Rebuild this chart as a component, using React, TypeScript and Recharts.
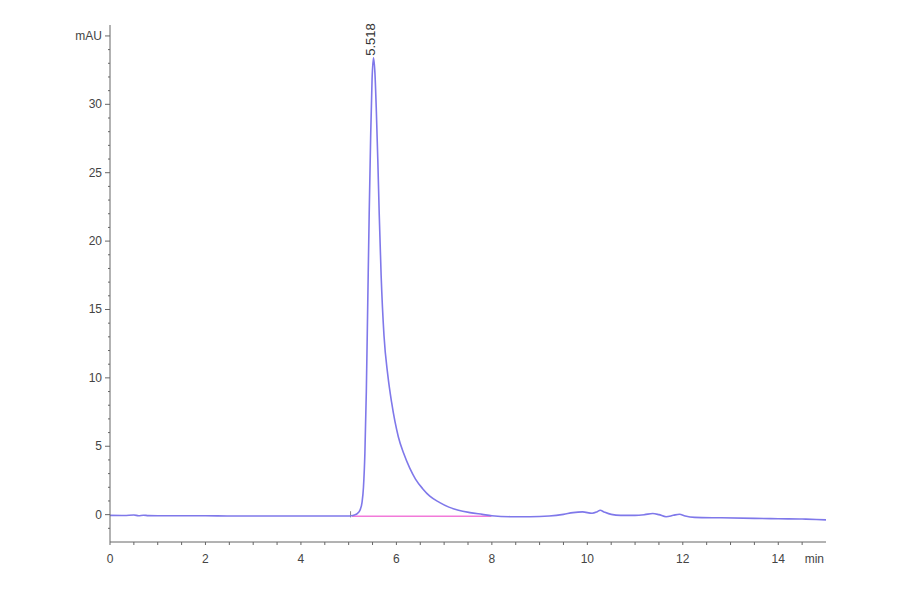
import React from "react";
import { Line, LineChart, ReferenceDot, ReferenceLine, XAxis, YAxis } from "recharts";

// retention time (min) and detector signal (mAU)
const times = [
  0, 0.3, 0.5, 0.6, 0.7, 0.8, 1.0, 2.0, 2.5, 3.0, 4.0, 4.5, 5.0, 5.05,
  5.12, 5.18, 5.24, 5.28, 5.31, 5.34, 5.37, 5.4, 5.43, 5.46, 5.49, 5.52,
  5.55, 5.58, 5.61, 5.64, 5.68, 5.74, 5.82, 5.9, 6.04, 6.15, 6.28, 6.4,
  6.55, 6.7, 6.9, 7.1, 7.3, 7.54, 7.8, 8.0, 8.4, 8.8, 9.2, 9.5, 9.7, 9.9,
  10.1, 10.2, 10.27, 10.35, 10.5, 10.7, 11.0, 11.2, 11.37, 11.5, 11.65,
  11.8, 11.93, 12.05, 12.25, 12.8, 13.5, 14.0, 14.5, 14.8, 15.0,
];
const signal = [
  -0.05, -0.06, -0.03, -0.08, -0.04, -0.07, -0.08, -0.08, -0.1, -0.1,
  -0.1, -0.1, -0.1, -0.08, -0.02, 0.08, 0.35, 0.9, 2.0, 4.5, 9.0, 15.5,
  22.0, 27.5, 31.8, 33.4, 32.3, 29.5, 26.0, 22.0, 17.5, 13.1, 10.2, 8.2,
  5.7, 4.5, 3.4, 2.6, 1.9, 1.35, 0.9, 0.55, 0.32, 0.15, 0.02, -0.08,
  -0.15, -0.15, -0.1, 0.02, 0.15, 0.2, 0.1, 0.2, 0.32, 0.2, 0.02, -0.05,
  -0.05, 0.0, 0.08, 0.0, -0.15, -0.05, 0.03, -0.1, -0.2, -0.23, -0.27,
  -0.3, -0.32, -0.35, -0.38,
];

// integration baseline under the main peak
const baseTimes = [5.07, 7.99];
const baseSignal = [-0.12, -0.12];

const peakTime = 5.518;
const peakHeight = 33.4;
const peakLabel = "5.518";

const xTicks = Array.from({ length: 31 }, (_, i) => i * 0.5);
const yTicks = Array.from({ length: 37 }, (_, i) => i - 1);

const trace = times.map((t, i) => ({ t, v: signal[i] }));
const baseline = baseTimes.map((t, i) => ({ t, v: baseSignal[i] }));

const FONT = "'Liberation Sans', Arial, sans-serif";
const AXIS = "#666";
const TEXT = "#444";

function XTick({ x, y, payload }: any) {
  const v = payload.value;
  if (v === 15) {
    return (
      <text x={x - 2} y={y + 21} textAnchor="end" fontSize={12} fill={TEXT} fontFamily={FONT}>
        min
      </text>
    );
  }
  const major = v % 2 === 0;
  return (
    <g>
      <line x1={x} x2={x} y1={y} y2={y + 3} stroke={AXIS} />
      {major && (
        <text x={x} y={y + 21} textAnchor="middle" fontSize={12} fill={TEXT} fontFamily={FONT}>
          {v}
        </text>
      )}
    </g>
  );
}

function YTick({ x, y, payload }: any) {
  const v = payload.value;
  const major = v % 5 === 0;
  return (
    <g>
      <line x1={x - (major ? 5 : 2)} x2={x} y1={y} y2={y} stroke={AXIS} />
      {major && (
        <text x={x - 8} y={y + 4} textAnchor="end" fontSize={12} fill={TEXT} fontFamily={FONT}>
          {v === 35 ? "mAU" : v}
        </text>
      )}
    </g>
  );
}

function PeakLabel({ viewBox }: any) {
  const cx = viewBox.x + viewBox.width / 2;
  const cy = viewBox.y + viewBox.height / 2;
  const px = cx + 2;
  const py = cy - 2;
  return (
    <text
      x={px}
      y={py}
      transform={`rotate(-90, ${px}, ${py})`}
      textAnchor="start"
      fontSize={13}
      fill="#333"
      fontFamily={FONT}
    >
      {peakLabel}
    </text>
  );
}

export default function App() {
  return (
    <div style={{ position: "absolute", left: 0, top: 0, width: 900, height: 594, background: "#fff" }}>
      <LineChart width={900} height={594} margin={{ top: 25, right: 74, bottom: 0, left: 0 }}>
        <XAxis
          dataKey="t"
          type="number"
          domain={[0, 15]}
          ticks={xTicks}
          interval={0}
          tick={<XTick />}
          tickLine={false}
          tickSize={0}
          tickMargin={0}
          stroke={AXIS}
          height={52}
          allowDataOverflow
        />
        <YAxis
          type="number"
          domain={[-2, 35.8]}
          ticks={yTicks}
          interval={0}
          tick={<YTick />}
          tickLine={false}
          tickSize={0}
          tickMargin={0}
          stroke={AXIS}
          width={110}
          allowDataOverflow
        />
        <ReferenceLine
          segment={[{ x: baseTimes[0] - 0.03, y: -0.2 }, { x: baseTimes[0] - 0.03, y: 0.25 }]}
          stroke="#888"
          strokeWidth={1}
        />
        <Line
          data={baseline}
          dataKey="v"
          type="linear"
          stroke="#f27ad9"
          strokeWidth={1.5}
          dot={false}
          isAnimationActive={false}
        />
        <Line
          data={trace}
          dataKey="v"
          type="monotone"
          stroke="#7f78ea"
          strokeWidth={1.6}
          dot={false}
          isAnimationActive={false}
        />
        <ReferenceDot
          x={peakTime}
          y={peakHeight}
          r={1}
          fill="none"
          stroke="none"
          label={<PeakLabel />}
        />
      </LineChart>
    </div>
  );
}
